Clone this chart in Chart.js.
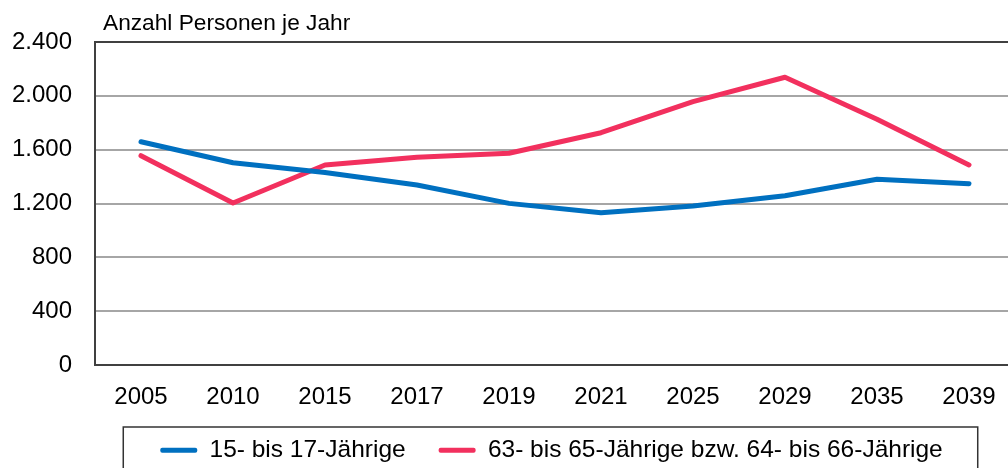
<!DOCTYPE html>
<html>
<head>
<meta charset="utf-8">
<script src="https://cdn.jsdelivr.net/npm/chart.js@4"></script>
<style>
  html, body { margin: 0; padding: 0; overflow: hidden; background: #fff; }
  #wrap { width: 1015px; height: 468px; position: relative; }
</style>
</head>
<body>
<div id="wrap"><canvas id="chart"></canvas></div>
<script>
// ====== data ======
const years = ["2005", "2010", "2015", "2017", "2019", "2021", "2025", "2029", "2035", "2039"];
const youth = [1659, 1503, 1430, 1337, 1201, 1132, 1181, 1258, 1380, 1347];
const seniors = [1555, 1204, 1486, 1543, 1573, 1726, 1957, 2138, 1826, 1486];
const seriesLabels = ["15- bis 17-Jährige", "63- bis 65-Jährige bzw. 64- bis 66-Jährige"];
const yTicks = [0, 400, 800, 1200, 1600, 2000, 2400];
const axisTitle = "Anzahl Personen je Jahr";

const FONT = "'Liberation Sans', Arial, sans-serif";
const BLUE = "#0070c0";
const RED = "#f2305e";

// German thousands separator
function fmt(v) {
  if (v < 1000) return String(v);
  return Math.floor(v / 1000) + "." + String(v % 1000).padStart(3, "0");
}

// title in the top left corner
const titlePlugin = {
  id: "cornerTitle",
  afterDraw(chart) {
    const ctx = chart.ctx;
    ctx.save();
    ctx.font = "22.7px " + FONT;
    ctx.fillStyle = "#000";
    ctx.textAlign = "left";
    ctx.textBaseline = "alphabetic";
    ctx.fillText(axisTitle, chart.chartArea.left + 8, 30);
    ctx.restore();
  }
};

// legend is centred under the plot, not the canvas, and gets a frame
const legendBox = {
  id: "legendBox",
  afterLayout(chart) {
    chart.legend.left = 88;
  },
  afterDraw(chart) {
    const hb = chart.legend.legendHitBoxes;
    if (!hb || !hb.length) return;
    const last = hb[hb.length - 1];
    const left = hb[0].left - 37;
    const top = hb[0].top - 11;
    const right = last.left + last.width + 35;
    const ctx = chart.ctx;
    ctx.save();
    ctx.strokeStyle = "#333";
    ctx.lineWidth = 1.5;
    ctx.strokeRect(left, top, right - left, 480 - top);
    ctx.restore();
  }
};

new Chart(document.getElementById("chart"), {
  type: "line",
  data: {
    labels: years,
    datasets: [
      { label: seriesLabels[0], data: youth, borderColor: BLUE, backgroundColor: BLUE },
      { label: seriesLabels[1], data: seniors, borderColor: RED, backgroundColor: RED }
    ]
  },
  options: {
    responsive: true,
    maintainAspectRatio: false,
    animation: false,
    layout: { padding: { left: 0, top: 42, right: 0, bottom: 0 } },
    elements: {
      line: { borderWidth: 5, tension: 0, borderCapStyle: "round", borderJoinStyle: "round" },
      point: { radius: 0, hoverRadius: 0 }
    },
    scales: {
      x: {
        offset: true,
        grid: { display: false, drawTicks: false, offset: true },
        border: { display: true, color: "#404040", width: 2 },
        ticks: { color: "#000", font: { family: FONT, size: 24 }, padding: 18, maxRotation: 0, autoSkip: false },
        afterFit(s) { s.height = 40; }
      },
      y: {
        min: 0,
        max: 2400,
        afterBuildTicks(s) { s.ticks = yTicks.map(v => ({ value: v })); },
        grid: {
          drawTicks: false,
          lineWidth: 2,
          color: c => (c.tick && (c.tick.value === 2400 || c.tick.value === 0)) ? "#404040" : "#a6a6a6"
        },
        border: { display: true, color: "#404040", width: 2 },
        ticks: { color: "#000", font: { family: FONT, size: 24 }, padding: 23, callback: v => fmt(v) },
        afterFit(s) { s.width = 95; }
      }
    },
    plugins: {
      tooltip: { enabled: false },
      legend: {
        position: "bottom",
        maxHeight: 63,
        labels: {
          color: "#000",
          font: { family: FONT, size: 24.5 },
          boxWidth: 37,
          boxHeight: 5,
          padding: 33,
          generateLabels(chart) {
            return Chart.defaults.plugins.legend.labels.generateLabels(chart)
              .map(l => ({ ...l, lineWidth: 0, fillStyle: l.strokeStyle, borderRadius: 2 }));
          }
        }
      }
    }
  },
  plugins: [titlePlugin, legendBox]
});
</script>
</body>
</html>
